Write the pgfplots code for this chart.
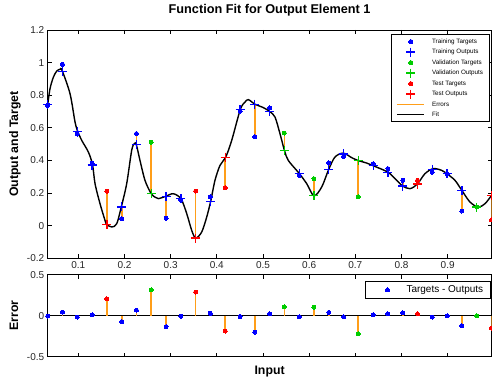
\documentclass[border=0pt]{standalone}
\usepackage{pgfplots}
\pgfplotsset{compat=1.18}
\usepackage{pgfplotstable}
\usepackage{fontspec}
\setmainfont{Liberation Sans}
\definecolor{mblue}{rgb}{0,0,1}
\definecolor{mgreen}{rgb}{0,0.8,0}
\definecolor{mred}{rgb}{1,0,0}
\definecolor{morange}{rgb}{1,0.62,0.1}

\pgfplotstableread{
x t o e
0.0337 0.738 0.742 -0.004
0.0657 0.990 0.945 0.045
0.0978 0.562 0.578 -0.016
0.1298 0.382 0.372 0.010
0.1939 0.043 0.115 -0.072
0.2259 0.565 0.497 0.068
0.2900 0.045 0.180 -0.135
0.3221 0.158 0.165 -0.007
0.3861 0.178 0.150 0.028
0.4502 0.702 0.712 -0.010
0.4823 0.545 0.745 -0.200
0.5143 0.722 0.700 0.022
0.5784 0.308 0.322 -0.014
0.6425 0.385 0.345 0.040
0.6745 0.425 0.440 -0.015
0.7386 0.380 0.368 0.012
0.7706 0.350 0.328 0.022
0.8027 0.278 0.243 0.035
0.8667 0.328 0.345 -0.017
0.8988 0.315 0.318 -0.003
0.9308 0.090 0.215 -0.125
}\train

\pgfplotstableread{
x t o e
0.2580 0.512 0.198 0.314
0.5463 0.568 0.460 0.108
0.6104 0.288 0.183 0.105
0.7065 0.177 0.400 -0.223
0.9629 0.114 0.114 0.000
}\valid

\pgfplotstableread{
x t o e
0.1619 0.212 0.008 0.204
0.3541 0.212 -0.076 0.288
0.4182 0.233 0.420 -0.187
0.8347 0.278 0.255 0.023
0.9949 0.035 0.185 -0.150
}\test

% error stems (target to output), nan rows break the line
\pgfplotstableread{
x y
0.0337 0.738
0.0337 0.742
0.0337 nan
0.0657 0.990
0.0657 0.945
0.0657 nan
0.0978 0.562
0.0978 0.578
0.0978 nan
0.1298 0.382
0.1298 0.372
0.1298 nan
0.1619 0.212
0.1619 0.008
0.1619 nan
0.1939 0.043
0.1939 0.115
0.1939 nan
0.2259 0.565
0.2259 0.497
0.2259 nan
0.2580 0.512
0.2580 0.198
0.2580 nan
0.2900 0.045
0.2900 0.180
0.2900 nan
0.3221 0.158
0.3221 0.165
0.3221 nan
0.3541 0.212
0.3541 -0.076
0.3541 nan
0.3861 0.178
0.3861 0.150
0.3861 nan
0.4182 0.233
0.4182 0.420
0.4182 nan
0.4502 0.702
0.4502 0.712
0.4502 nan
0.4823 0.545
0.4823 0.745
0.4823 nan
0.5143 0.722
0.5143 0.700
0.5143 nan
0.5463 0.568
0.5463 0.460
0.5463 nan
0.5784 0.308
0.5784 0.322
0.5784 nan
0.6104 0.288
0.6104 0.183
0.6104 nan
0.6425 0.385
0.6425 0.345
0.6425 nan
0.6745 0.425
0.6745 0.440
0.6745 nan
0.7065 0.177
0.7065 0.400
0.7065 nan
0.7386 0.380
0.7386 0.368
0.7386 nan
0.7706 0.350
0.7706 0.328
0.7706 nan
0.8027 0.278
0.8027 0.243
0.8027 nan
0.8347 0.278
0.8347 0.255
0.8347 nan
0.8667 0.328
0.8667 0.345
0.8667 nan
0.8988 0.315
0.8988 0.318
0.8988 nan
0.9308 0.090
0.9308 0.215
0.9308 nan
0.9629 0.114
0.9629 0.114
0.9629 nan
0.9949 0.035
0.9949 0.185
}\stems

\pgfplotstableread{
x y
0.0337 0.742
0.0387 0.84
0.0459 0.91
0.0532 0.948
0.0604 0.959
0.0647 0.953
0.0820 0.81
0.0929 0.636
0.0987 0.578
0.1074 0.523
0.1217 0.452
0.1308 0.374
0.1362 0.258
0.1470 0.135
0.1578 0.033
0.1615 0.008
0.1723 -0.008
0.1832 0.012
0.1931 0.115
0.2048 0.258
0.2156 0.462
0.2213 0.503
0.2256 0.497
0.2336 0.40
0.2444 0.278
0.2574 0.198
0.2661 0.175
0.2733 0.166
0.2893 0.180
0.3057 0.196
0.3224 0.165
0.3348 0.074
0.3456 -0.029
0.3542 -0.076
0.3672 -0.039
0.3781 0.053
0.3867 0.150
0.3960 0.278
0.4069 0.37
0.4192 0.420
0.4322 0.523
0.4508 0.712
0.4610 0.758
0.4682 0.773
0.4827 0.745
0.5007 0.724
0.5145 0.700
0.5260 0.666
0.5368 0.564
0.5466 0.460
0.5548 0.40
0.5780 0.322
0.5946 0.258
0.6104 0.183
0.6271 0.237
0.6423 0.345
0.6559 0.421
0.6739 0.445
0.6921 0.417
0.7057 0.400
0.7246 0.384
0.7382 0.368
0.7707 0.328
0.7895 0.278
0.8025 0.243
0.8183 0.227
0.8342 0.255
0.8508 0.319
0.8688 0.35
0.8870 0.339
0.8985 0.318
0.9158 0.278
0.9310 0.215
0.9483 0.145
0.9663 0.114
0.9808 0.135
0.9949 0.185
}\fit

\pgfplotsset{
  mstyle/.style={
    scale only axis,
    width=443.8pt,
    xmin=0.0337, xmax=0.9949,
    axis line style={line width=0.9pt},
    every tick/.style={line width=0.8pt, black},
    major tick length=4pt,
    tick align=inside,
    xtick={0.1,0.2,0.3,0.4,0.5,0.6,0.7,0.8,0.9},
    tick label style={font=\fontsize{10}{12}\selectfont, text=black!85},
    every axis y label/.style={at={(axis description cs:-0.0669,0.5)}, rotate=90, anchor=base, font=\fontsize{12.3}{14}\selectfont\bfseries},
  },
  tmark/.style={only marks, mark=*, mark size=2pt, mark options={line width=0pt}},
  omark/.style={only marks, mark=+, mark size=4.5pt, mark options={line width=1.3pt}},
  tmarkL/.style={/tikz/only marks, mark=*, mark size=2pt, mark options={line width=0pt}},
  omarkL/.style={/tikz/only marks, mark=+, mark size=4.5pt, mark options={line width=1.3pt}},
}

\begin{document}
\begin{tikzpicture}
\begin{axis}[mstyle,
  at={(0,0)}, anchor=south west,
  height=228.3pt,
  ymin=-0.2, ymax=1.2,
  ytick={-0.2,0,0.2,0.4,0.6,0.8,1,1.2},
  yticklabels={-0.2,0,0.2,0.4,0.6,0.8,1,1.2},
  xticklabels={0.1,0.2,0.3,0.4,0.5,0.6,0.7,0.8,0.9},
  title={Function Fit for Output Element 1},
  title style={at={(axis description cs:0.5,1)}, anchor=base, yshift=10pt, font=\fontsize{12.7}{15}\selectfont\bfseries},
  ylabel={Output and Target},
  legend image code/.code={\path[draw=none,fill=none] (0pt,-2pt) rectangle (27pt,2pt); \draw[mark repeat=2,mark phase=2,#1] plot coordinates {(0pt,0pt) (13.5pt,0pt) (27pt,0pt)};},
  legend style={at={(axis description cs:0.9966,0.982)}, anchor=north east,
    font=\fontsize{6.3}{7}\selectfont, draw=black, line width=0.8pt,
    inner xsep=5.5pt, inner ysep=3pt, row sep=2pt, column sep=6pt,
    nodes={inner sep=1pt, text height=4.6pt, text depth=1.4pt}},
  legend cell align=left,
  unbounded coords=jump,
]
\addlegendimage{tmarkL, mblue}
\addlegendentry{Training Targets}
\addlegendimage{omarkL, mblue}
\addlegendentry{Training Outputs}
\addlegendimage{tmarkL, mgreen}
\addlegendentry{Validation Targets}
\addlegendimage{omarkL, mgreen}
\addlegendentry{Validation Outputs}
\addlegendimage{tmarkL, mred}
\addlegendentry{Test Targets}
\addlegendimage{omarkL, mred}
\addlegendentry{Test Outputs}
\addlegendimage{morange, line width=1.6pt}
\addlegendentry{Errors}
\addlegendimage{black, line width=1.6pt}
\addlegendentry{Fit}

\addplot[forget plot, morange, line width=1.7pt] table[x=x, y=y] {\stems};
\addplot[forget plot, black, line width=1.4pt, smooth, tension=0.5] table[x=x, y=y] {\fit};
\addplot[forget plot, tmark, mblue] table[x=x, y=t] {\train};
\addplot[forget plot, tmark, mgreen] table[x=x, y=t] {\valid};
\addplot[forget plot, tmark, mred] table[x=x, y=t] {\test};
\addplot[forget plot, omark, mblue] table[x=x, y=o] {\train};
\addplot[forget plot, omark, mgreen] table[x=x, y=o] {\valid};
\addplot[forget plot, omark, mred] table[x=x, y=o] {\test};
\end{axis}

\begin{axis}[mstyle,
  at={(0,-98.4pt)}, anchor=south west,
  height=82pt,
  ymin=-0.5, ymax=0.5,
  ytick={-0.5,0,0.5},
  yticklabels={-0.5,0,0.5},
  xticklabels={},
  ylabel={Error},
  xlabel={Input},
  every axis x label/.style={at={(axis description cs:0.5,0)}, anchor=base, yshift=-17.3pt, font=\fontsize{12.3}{14}\selectfont\bfseries},
  legend image code/.code={\path[draw=none,fill=none] (0pt,-2pt) rectangle (33pt,2pt); \draw[mark repeat=2,mark phase=2,#1] plot coordinates {(0pt,0pt) (16.5pt,0pt) (33pt,0pt)};},
  legend style={at={(axis description cs:0.998,0.927)}, anchor=north east,
    font=\fontsize{10}{12}\selectfont, draw=black, line width=0.8pt,
    inner xsep=6pt, inner ysep=3.4pt, column sep=1.5pt,
    nodes={inner sep=1pt, text height=7pt, text depth=2pt}},
]
\addlegendimage{tmarkL, mblue}
\addlegendentry{Targets - Outputs}
\addplot[forget plot, black, line width=0.8pt] coordinates {(0.0337,0) (0.9949,0)};
\addplot[forget plot, ycomb, morange, line width=1.7pt] table[x=x, y=e] {\train};
\addplot[forget plot, ycomb, morange, line width=1.7pt] table[x=x, y=e] {\valid};
\addplot[forget plot, ycomb, morange, line width=1.7pt] table[x=x, y=e] {\test};
\addplot[forget plot, tmark, mblue] table[x=x, y=e] {\train};
\addplot[forget plot, tmark, mgreen] table[x=x, y=e] {\valid};
\addplot[forget plot, tmark, mred] table[x=x, y=e] {\test};
\end{axis}
\pgfresetboundingbox
\path[use as bounding box] (-47.7pt,-118.7pt) rectangle (444.3pt,258.3pt);
\end{tikzpicture}
\end{document}
